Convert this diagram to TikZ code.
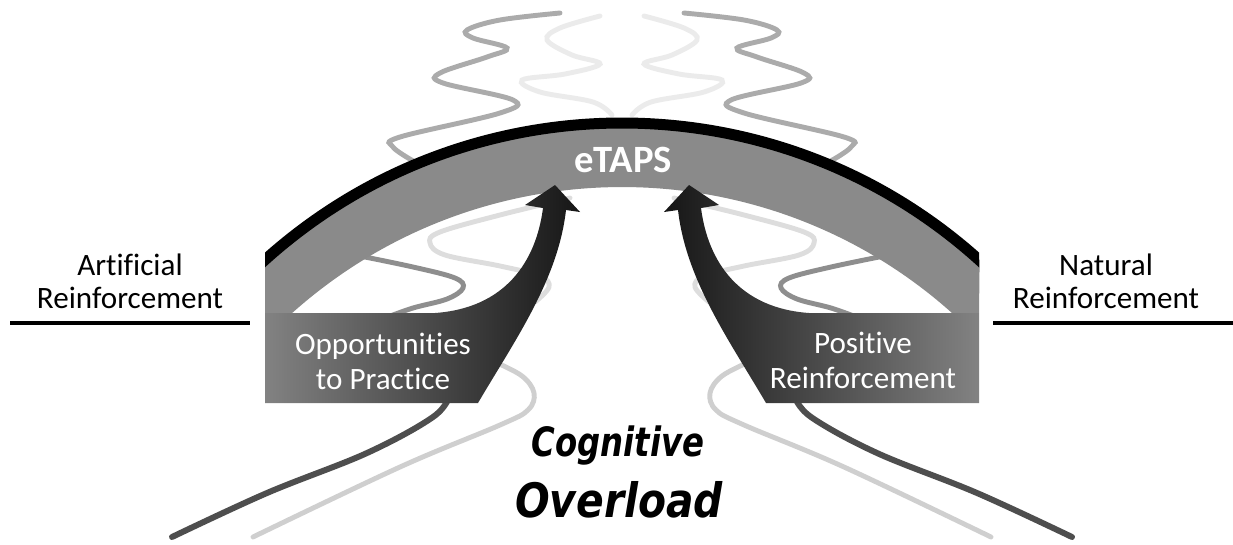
\documentclass[tikz,border=0pt]{standalone}
\usepackage{fontspec}
\setmainfont{Carlito}[Ligatures=NoCommon]
\newfontfamily\heavyfont{DejaVu Sans}

\definecolor{archgray}{HTML}{8A8A8A}
\definecolor{boxgray}{HTML}{828282}
\definecolor{wingmid}{HTML}{666666}
\definecolor{wingdark}{HTML}{161616}
\definecolor{wavedark}{HTML}{4E4E4E}
\definecolor{wavemid}{HTML}{8E8E8E}
\definecolor{wavelight}{HTML}{ABABAB}
\definecolor{wavepale}{HTML}{CFCFCF}
\definecolor{wavefaint}{HTML}{EBEBEB}

\tikzset{
  wave/.style={line width=2.8pt, line cap=round},
  sidelabel/.style={align=center, font=\fontsize{17.7}{18.6}\selectfont},
  wingtext/.style={align=center, text=white, font=\fontsize{17.7}{20}\selectfont},
  overloadtext/.style={font=\heavyfont\fontsize{#1}{#1}\selectfont\bfseries\itshape, transform shape},
}

\begin{document}
\begin{tikzpicture}[x=0.02cm, y=-0.02cm]
    \useasboundingbox (0,0) rectangle (1233,544);

    %waves behind everything, left side and its mirror image
    \foreach \s in {1,-1}
    {
        \begin{scope}[shift={(622-622*\s,0)}, xscale=\s]
            \draw[wave, wavefaint] plot[smooth, tension=0.6] coordinates
                {(600,16) (560,28) (547,40) (572,55) (600,64) (565,74) (522,80)
                 (540,92) (593,102) (612,115)};
            \draw[wave, wavelight] plot[smooth, tension=0.6] coordinates
                {(560,13) (500,20) (467,30) (473,38) (507,48) (487,57) (440,73)
                 (443,83) (513,100) (500,113) (400,137) (393,147) (415,162)};
            \draw[wave, wavemid] plot[smooth, tension=0.6] coordinates
                {(350,254) (413,267) (455,278) (463,288) (447,299) (413,308) (385,318)};
            \draw[wave, wavepale!70] plot[smooth, tension=0.6] coordinates
                {(570,198) (500,215) (440,232) (430,243) (445,255) (500,266)
                 (540,276) (549,287) (535,302)};
            \draw[wave, wavepale] plot[smooth, tension=0.6] coordinates
                {(495,362) (522,376) (534,393) (528,410) (500,425) (400,467) (253,537)};
            \draw[wave, wavedark, line width=3.4pt] plot[smooth, tension=0.6] coordinates
                {(450,395) (433,417) (367,453) (267,493) (172,537)};
        \end{scope}
    }

    %arch band with its black rim
    \fill[archgray] (265,313) -- (265,260)
        arc[start angle=228, end angle=312, radius=534]
        -- (979,313) -- (952,313)
        arc[start angle=311.8, end angle=228.2, radius=495]
        -- cycle;
    \begin{scope}
        \clip (265,0) rectangle (979,544);
        \draw[line width=0.22cm] (622,657) ++(226:534) arc[start angle=226, end angle=314, radius=534];
    \end{scope}

    %boxes and the arrows rising from them
    \foreach \s/\lc/\rc in {1/boxgray/wingdark, -1/wingdark/boxgray}
    {
        \begin{scope}[shift={(622-622*\s,0)}, xscale=\s]
            \shade[left color=\lc, middle color=wingmid, right color=\rc]
                (265,313) -- (265,403) -- (478,403)
                .. controls (515,340) and (558,280) .. (566,210)
                -- (580,212) -- (555,185) -- (525,205) -- (543,208)
                .. controls (536,262) and (505,308) .. (435,313)
                -- cycle;
        \end{scope}
    }

    %side lines
    \coordinate (AL) at (10,323);
    \coordinate (AR) at (250,323);
    \coordinate (NL) at (993,323);
    \coordinate (NR) at (1233,323);
    \draw[line width=2pt] (AL) -- (AR);
    \draw[line width=2pt] (NL) -- (NR);

    %labels
    \node[sidelabel] (artificial) at (130,281) {Artificial\\Reinforcement};
    \node[sidelabel] (natural) at (1106,281) {Natural\\Reinforcement};
    \node[wingtext] (practice) at (383,361) {Opportunities\\to Practice};
    \node[wingtext] (positive) at (863,360) {Positive\\Reinforcement};
    \node[text=white, font=\fontsize{22}{24}\selectfont\bfseries] (etaps) at (623,160) {eTAPS};
    \node[overloadtext=23, xscale=0.8] (cognitive) at (618,446) {Cognitive};
    \node[overloadtext=27, xscale=0.86] (overload) at (619,500) {Overload};
\end{tikzpicture}
\end{document}
